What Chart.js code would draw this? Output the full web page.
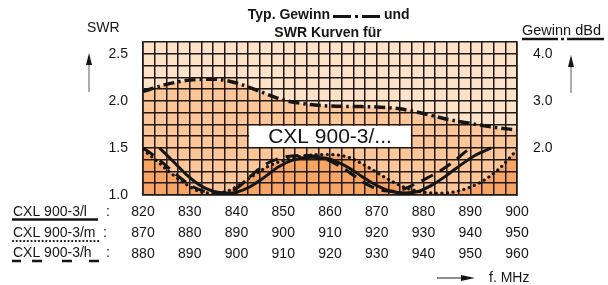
<!DOCTYPE html>
<html><head><meta charset="utf-8">
<script src="https://cdn.jsdelivr.net/npm/chart.js@4.4.0/dist/chart.umd.min.js"></script>
<style>html,body{margin:0;padding:0;background:#fff;}canvas{display:block;}</style>
</head><body>
<canvas id="c" width="608" height="285"></canvas>
<script>
// ---- tick labels ----
const freqL = [820, 830, 840, 850, 860, 870, 880, 890, 900];
const freqM = [870, 880, 890, 900, 910, 920, 930, 940, 950];
const freqH = [880, 890, 900, 910, 920, 930, 940, 950, 960];
const swrTicks = [1.0, 1.5, 2.0, 2.5];
const gainTicks = [2.0, 3.0, 4.0];
const rowNames = ['CXL 900-3/l', 'CXL 900-3/m', 'CXL 900-3/h'];

// ---- series (x on the CXL 900-3/l frequency scale, MHz) ----
const gainFreq = [820, 825, 830, 835, 840, 845, 850, 855, 860, 865, 870, 875, 880, 885, 890, 895, 900];
const gainVal  = [3.20, 3.35, 3.44, 3.46, 3.38, 3.20, 3.02, 2.93, 2.89, 2.88, 2.87, 2.83, 2.73, 2.61, 2.52, 2.44, 2.38];

const swrLFreq = [823.5, 826, 829, 832, 835, 837.5, 840, 843, 846, 849, 852, 856, 860, 864, 867, 870, 873, 876, 879, 882, 885, 888, 891, 894.5];
const swrLVal  = [1.50, 1.38, 1.23, 1.11, 1.04, 1.02, 1.03, 1.09, 1.19, 1.30, 1.37, 1.40, 1.38, 1.29, 1.19, 1.10, 1.04, 1.02, 1.04, 1.11, 1.21, 1.32, 1.42, 1.50];

const swrMFreq = [820, 823, 826, 829, 832, 835, 838, 841, 844, 847, 851, 855, 860, 864, 868, 872, 876, 880, 884, 888, 892, 896, 900];
const swrMVal  = [1.48, 1.36, 1.23, 1.12, 1.04, 1.02, 1.04, 1.12, 1.22, 1.31, 1.38, 1.42, 1.43, 1.40, 1.30, 1.18, 1.08, 1.03, 1.02, 1.05, 1.13, 1.27, 1.48];

const swrHFreq = [820, 822, 825, 828, 831, 834, 837, 840, 843, 846, 850, 854, 858, 862, 865, 868, 871, 874, 877, 880, 883, 886, 889, 890.5];
const swrHVal  = [1.50, 1.43, 1.31, 1.18, 1.08, 1.03, 1.02, 1.07, 1.20, 1.32, 1.40, 1.42, 1.40, 1.31, 1.21, 1.11, 1.05, 1.04, 1.09, 1.16, 1.24, 1.34, 1.46, 1.52];

// label box in data coordinates
const boxFreq = [842.5, 877.5];
const boxSwr = [1.5, 1.75];
const boxText = 'CXL 900-3/...';

const FONT = "'Liberation Sans', Arial, Helvetica, sans-serif";
const INK = '#151515';
const GRID = '#201814';
const LIGHT = '#fee2c9';
const MID = '#fcc699';
const DARK = '#f6a565';

const pts = (xs, ys) => xs.map((x, i) => ({x, y: ys[i]}));

function vArrow(ctx, x, yBase, yTip) {
  ctx.save();
  ctx.strokeStyle = '#777'; ctx.lineWidth = 1.2;
  ctx.beginPath(); ctx.moveTo(x, yBase); ctx.lineTo(x, yTip + 10); ctx.stroke();
  ctx.fillStyle = INK;
  ctx.beginPath(); ctx.moveTo(x, yTip); ctx.lineTo(x - 3, yTip + 12); ctx.lineTo(x + 3, yTip + 12); ctx.closePath(); ctx.fill();
  ctx.restore();
}
function hArrow(ctx, x0, xTip, y) {
  ctx.save();
  ctx.strokeStyle = '#444'; ctx.lineWidth = 1.2;
  ctx.beginPath(); ctx.moveTo(x0, y); ctx.lineTo(xTip - 10, y); ctx.stroke();
  ctx.fillStyle = INK;
  ctx.beginPath(); ctx.moveTo(xTip, y); ctx.lineTo(xTip - 14, y - 3); ctx.lineTo(xTip - 14, y + 3); ctx.closePath(); ctx.fill();
  ctx.restore();
}
function hLine(ctx, x0, x1, y, w, dash, cap) {
  ctx.save();
  ctx.strokeStyle = INK; ctx.lineWidth = w; ctx.lineCap = cap || 'butt';
  ctx.setLineDash(dash || []);
  ctx.beginPath(); ctx.moveTo(x0, y); ctx.lineTo(x1, y); ctx.stroke();
  ctx.restore();
}

const decor = {
  id: 'decor',
  beforeDraw(chart) {
    const {ctx, chartArea: a} = chart;
    ctx.save();
    ctx.globalCompositeOperation = 'destination-over';
    ctx.fillStyle = LIGHT;
    ctx.fillRect(a.left, a.top, a.right - a.left, a.bottom - a.top);
    ctx.restore();
  },
  beforeDatasetsDraw(chart) {
    const {ctx} = chart;
    const x = chart.scales.x, y = chart.scales.y;
    const l = x.getPixelForValue(boxFreq[0]), r = x.getPixelForValue(boxFreq[1]);
    const t = y.getPixelForValue(boxSwr[1]), b = y.getPixelForValue(boxSwr[0]);
    ctx.save();
    ctx.fillStyle = '#ffffff';
    ctx.fillRect(l + 1, t + 1.5, r - l - 2, b - t - 2.5);
    ctx.fillStyle = INK;
    ctx.font = '21px ' + FONT;
    ctx.textAlign = 'center'; ctx.textBaseline = 'middle';
    ctx.fillText(boxText, (l + r) / 2, (t + b) / 2 + 1);
    ctx.restore();
  },
  afterDraw(chart) {
    const ctx = chart.ctx;
    ctx.save();
    ctx.fillStyle = INK;
    ctx.textBaseline = 'middle';
    // axis titles
    ctx.font = '14px ' + FONT;
    ctx.textAlign = 'left';
    ctx.fillText('SWR', 87, 28);
    ctx.font = '14.5px ' + FONT;
    ctx.fillText('Gewinn dBd', 522, 31);
    hLine(ctx, 522, 558, 39, 2.5);
    hLine(ctx, 561, 564, 39, 2.5);
    hLine(ctx, 567, 604, 39, 2.5);
    vArrow(ctx, 89, 92, 53);
    vArrow(ctx, 571, 93, 55);
    // title
    ctx.font = 'bold 14px ' + FONT;
    ctx.textAlign = 'right';
    ctx.fillText('Typ. Gewinn', 330, 15);
    ctx.textAlign = 'left';
    ctx.fillText('und', 384, 15);
    ctx.textAlign = 'center';
    ctx.fillText('SWR Kurven für', 328, 33);
    hLine(ctx, 333, 351, 16.5, 3);
    hLine(ctx, 355, 358, 16.5, 3);
    hLine(ctx, 362, 380, 16.5, 3);
    // row labels
    ctx.font = '14px ' + FONT;
    const rowY = [212, 233, 253];
    const colonX = [106, 103, 106];
    rowNames.forEach((n, i) => {
      ctx.textAlign = 'left';
      ctx.fillText(n, 13, rowY[i]);
      ctx.fillText(':', colonX[i], rowY[i]);
    });
    hLine(ctx, 12, 98, 219.5, 2.5);
    hLine(ctx, 13, 99, 241, 2.2, [0.1, 3.6], 'round');
    hLine(ctx, 12, 99, 261, 2.5, [9, 11, 10, 20, 10, 17, 10]);
    // frequency unit
    hArrow(ctx, 437, 475, 278);
    ctx.textAlign = 'left';
    ctx.fillText('f. MHz', 489, 278);
    ctx.restore();
  }
};

new Chart(document.getElementById('c'), {
  type: 'line',
  data: {
    datasets: [
      {label: rowNames[0], data: pts(swrLFreq, swrLVal), yAxisID: 'y',
       borderColor: INK, borderWidth: 3, pointRadius: 0, cubicInterpolationMode: 'monotone', fill: false},
      {label: rowNames[1], data: pts(swrMFreq, swrMVal), yAxisID: 'y',
       borderColor: INK, borderWidth: 3.2, borderDash: [0.1, 5.5], borderCapStyle: 'round',
       pointRadius: 0, cubicInterpolationMode: 'monotone', fill: 'start', backgroundColor: DARK},
      {label: rowNames[2], data: pts(swrHFreq, swrHVal), yAxisID: 'y',
       borderColor: INK, borderWidth: 3, borderDash: [13, 8], pointRadius: 0,
       cubicInterpolationMode: 'monotone', fill: false},
      {label: 'Gewinn', data: pts(gainFreq, gainVal), yAxisID: 'y1',
       borderColor: INK, borderWidth: 3.5, borderDash: [11, 4, 2.5, 4], pointRadius: 0,
       cubicInterpolationMode: 'monotone', fill: 'start', backgroundColor: MID}
    ]
  },
  options: {
    responsive: false,
    animation: false,
    events: [],
    layout: {padding: {top: 42, left: 0, right: 0, bottom: 0}},
    plugins: {
      legend: {display: false},
      tooltip: {enabled: false},
      filler: {drawTime: 'beforeDraw'}
    },
    scales: {
      x: {
        type: 'linear', position: 'bottom', min: 820, max: 900,
        afterFit(s) { s.height = 90; },
        grid: {color: GRID, lineWidth: 1.5, drawTicks: false},
        border: {color: GRID, width: 1.6},
        ticks: {
          stepSize: 2.5, autoSkip: false, maxRotation: 0, padding: 7,
          color: INK, font: {family: FONT, size: 14, lineHeight: 1.48},
          callback(v) {
            const i = freqL.indexOf(v);
            return i >= 0 ? [String(freqL[i]), String(freqM[i]), String(freqH[i])] : '';
          }
        }
      },
      y: {
        type: 'linear', position: 'left', min: 1.0, max: 2.625,
        afterFit(s) { s.width = 143; },
        grid: {color: GRID, lineWidth: 1.5, drawTicks: false},
        border: {color: GRID, width: 1.6},
        ticks: {
          stepSize: 0.125, autoSkip: false, padding: 15, color: INK,
          font: {family: FONT, size: 14},
          callback(v) { return swrTicks.includes(v) ? v.toFixed(1) : ''; }
        }
      },
      y1: {
        type: 'linear', position: 'right', min: 1.0, max: 4.25,
        afterFit(s) { s.width = 91; },
        afterBuildTicks(s) { s.ticks = gainTicks.map(v => ({value: v})); },
        grid: {drawOnChartArea: false, drawTicks: false},
        border: {color: GRID, width: 1.6},
        ticks: {
          autoSkip: false, padding: 16, color: INK,
          font: {family: FONT, size: 14},
          callback(v) { return v.toFixed(1); }
        }
      }
    }
  },
  plugins: [decor]
});
</script>
</body></html>
